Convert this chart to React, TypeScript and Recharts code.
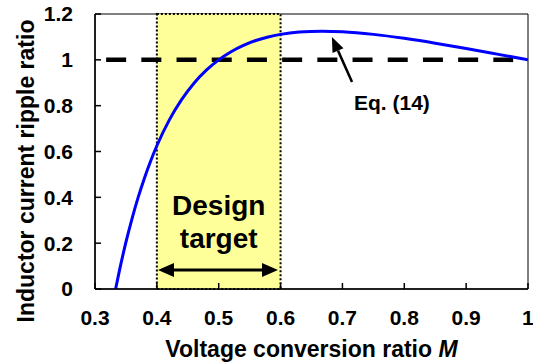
import {
  Label,
  Line,
  LineChart,
  ReferenceArea,
  ReferenceDot,
  ReferenceLine,
  XAxis,
  YAxis,
} from "recharts";

// Voltage conversion ratio M vs. normalized inductor ripple
const mValues = [
  0.3333, 0.34, 0.35, 0.36, 0.37, 0.38, 0.39, 0.4, 0.42, 0.44, 0.46, 0.48, 0.5, 0.52,
  0.54, 0.56, 0.58, 0.6, 0.63, 0.667, 0.7, 0.75, 0.8, 0.85, 0.9, 0.95, 1.0,
];
const rippleRatio = [
  0, 0.0865, 0.2041, 0.3086, 0.4018, 0.4848, 0.5588, 0.625, 0.737, 0.8264, 0.8979,
  0.9549, 1.0, 1.0355, 1.0631, 1.0842, 1.0999, 1.1111, 1.1212, 1.125, 1.1224, 1.1111,
  1.0938, 1.0727, 1.0494, 1.0249, 1.0,
];

const xTicks = [0.3, 0.4, 0.5, 0.6, 0.7, 0.8, 0.9, 1];
const yTicks = [0, 0.2, 0.4, 0.6, 0.8, 1, 1.2];

// design window and unity reference
const targetRange = [0.4, 0.6];
const unityLine = [0.318, 0.976];
const designArrowY = 0.083;
const eqArrow = { from: [0.7155, 0.903], to: [0.683, 1.1] };

const FONT = "'Liberation Sans', Arial, Helvetica, sans-serif";

const data = mValues.map((m, i) => ({ m, ripple: rippleRatio[i] }));

function arrowHead(tx: number, ty: number, fx: number, fy: number, len: number, half: number) {
  const ang = Math.atan2(ty - fy, tx - fx);
  const bx = tx - len * Math.cos(ang);
  const by = ty - len * Math.sin(ang);
  const px = -Math.sin(ang) * half;
  const py = Math.cos(ang) * half;
  return {
    base: [bx, by],
    points: `${tx},${ty} ${bx + px},${by + py} ${bx - px},${by - py}`,
  };
}

function SingleArrow(props: any) {
  const { x1, y1, x2, y2 } = props;
  const h = arrowHead(x2, y2, x1, y1, 15, 6);
  return (
    <g>
      <line x1={x1} y1={y1} x2={h.base[0]} y2={h.base[1]} stroke="#000" strokeWidth={2.5} />
      <polygon points={h.points} fill="#000" />
    </g>
  );
}

function DoubleArrow(props: any) {
  const { x1, y1, x2, y2 } = props;
  const a = arrowHead(x2, y2, x1, y1, 16, 7);
  const b = arrowHead(x1, y1, x2, y2, 16, 7);
  return (
    <g>
      <line x1={b.base[0]} y1={b.base[1]} x2={a.base[0]} y2={a.base[1]} stroke="#000" strokeWidth={3} />
      <polygon points={a.points} fill="#000" />
      <polygon points={b.points} fill="#000" />
    </g>
  );
}

function textAt(label: string, size: number) {
  return (p: any) => (
    <text
      x={p.cx}
      y={p.cy}
      textAnchor="middle"
      fontFamily={FONT}
      fontWeight="bold"
      fontSize={size}
      fill="#000"
    >
      {label}
    </text>
  );
}

export default function App() {
  return (
    <div style={{ position: "absolute", left: 0, top: 0, background: "#fff" }}>
      <LineChart
        width={533}
        height={364}
        data={data}
        margin={{ top: 14, right: 5, bottom: 0, left: 0 }}
      >
        <XAxis
          dataKey="m"
          type="number"
          domain={[0.3, 1]}
          ticks={xTicks}
          tickFormatter={(v: number) => String(v)}
          height={75}
          tickSize={-6}
          tickMargin={27}
          axisLine={{ stroke: "#000", strokeWidth: 1.5 }}
          tickLine={{ stroke: "#000", strokeWidth: 1.5 }}
          tick={{ fill: "#000", fontSize: 21, fontWeight: "bold", fontFamily: FONT }}
          allowDataOverflow
        >
          <Label
            content={(p: any) => (
              <text
                x={p.viewBox.x + p.viewBox.width / 2}
                y={p.viewBox.y + 68}
                textAnchor="middle"
                fontFamily={FONT}
                fontWeight="bold"
                fontSize={23}
                fill="#000"
              >
                Voltage conversion ratio <tspan fontStyle="italic">M</tspan>
              </text>
            )}
          />
        </XAxis>
        <YAxis
          type="number"
          domain={[0, 1.2]}
          ticks={yTicks}
          tickFormatter={(v: number) => String(v)}
          width={95}
          tickSize={-6}
          tickMargin={28}
          axisLine={{ stroke: "#000", strokeWidth: 1.5 }}
          tickLine={{ stroke: "#000", strokeWidth: 1.5 }}
          tick={{ fill: "#000", fontSize: 21, fontWeight: "bold", fontFamily: FONT }}
          allowDataOverflow
        >
          <Label
            content={(p: any) => {
              const cx = 34;
              const cy = p.viewBox.y + p.viewBox.height / 2 + 19.5;
              return (
                <text
                  x={cx}
                  y={cy}
                  transform={`rotate(-90, ${cx}, ${cy})`}
                  textAnchor="middle"
                  fontFamily={FONT}
                  fontWeight="bold"
                  fontSize={23}
                  fill="#000"
                >
                  Inductor current ripple ratio
                </text>
              );
            }}
          />
        </YAxis>

        {/* plot frame */}
        <ReferenceArea
          x1={0.3}
          x2={1}
          y1={0}
          y2={1.2}
          fill="none"
          stroke="#000"
          strokeWidth={1}
        />
        {/* design target window */}
        <ReferenceArea
          x1={targetRange[0]}
          x2={targetRange[1]}
          y1={0}
          y2={1.2}
          fill="#FFFF99"
          fillOpacity={1}
          stroke="#000"
          strokeWidth={2}
          strokeDasharray="2 2"
        />
        <ReferenceLine
          segment={[
            { x: unityLine[0], y: 1 },
            { x: unityLine[1], y: 1 },
          ]}
          stroke="#000"
          strokeWidth={4.5}
          strokeDasharray="20 15.2"
        />
        <Line
          type="monotone"
          dataKey="ripple"
          stroke="#0000FF"
          strokeWidth={3}
          dot={false}
          isAnimationActive={false}
        />
        <ReferenceLine
          segment={[
            { x: targetRange[0] + 0.0018, y: designArrowY },
            { x: targetRange[1] - 0.0042, y: designArrowY },
          ]}
          shape={DoubleArrow}
        />
        <ReferenceLine
          segment={[
            { x: eqArrow.from[0], y: eqArrow.from[1] },
            { x: eqArrow.to[0], y: eqArrow.to[1] },
          ]}
          shape={SingleArrow}
        />
        <ReferenceDot x={0.5} y={0.323} r={0} shape={textAt("Design", 28)} />
        <ReferenceDot x={0.5} y={0.179} r={0} shape={textAt("target", 28)} />
        <ReferenceDot x={0.78} y={0.781} r={0} shape={textAt("Eq. (14)", 21)} />
      </LineChart>
    </div>
  );
}
